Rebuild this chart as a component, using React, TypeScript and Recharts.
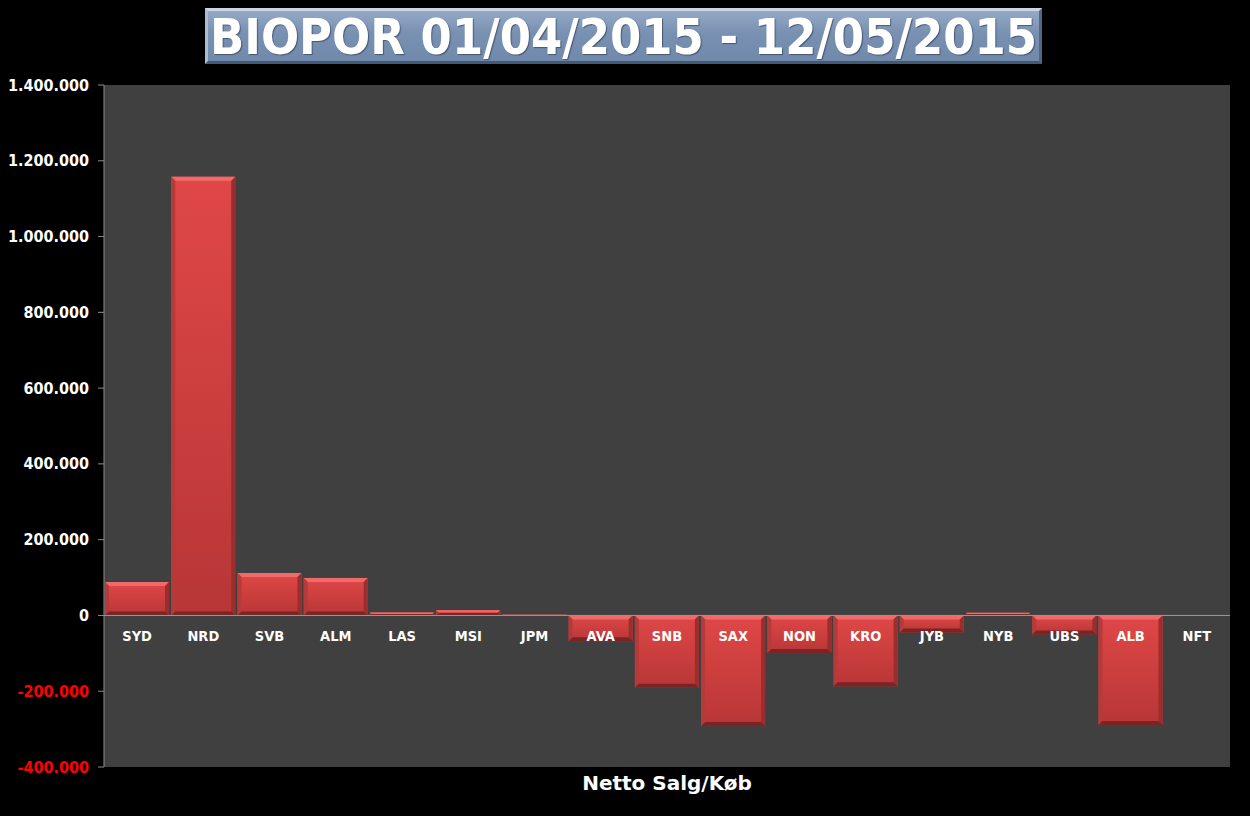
import React from 'react';
import { BarChart, Bar, XAxis, YAxis, CartesianGrid, ReferenceLine, Label } from 'recharts';

const titleText = 'BIOPOR 01/04/2015 - 12/05/2015';
const axisTitle = 'Netto Salg/Køb';
const categories = ['SYD', 'NRD', 'SVB', 'ALM', 'LAS', 'MSI', 'JPM', 'AVA', 'SNB', 'SAX', 'NON', 'KRO', 'JYB', 'NYB', 'UBS', 'ALB', 'NFT'];
const netValues = [88000, 1158000, 112000, 99000, 8000, 14000, 2000, -68000, -191000, -292000, -99000, -187000, -45000, 7000, -50000, -289000, 0];
const yTicks = [-400000, -200000, 0, 200000, 400000, 600000, 800000, 1000000, 1200000, 1400000];
const yMin = -400000;
const yMax = 1400000;

const data = categories.map((c, i) => ({ name: c, value: netValues[i] }));

const W = 1250;
const H = 816;
const M = { top: 85, right: 20, bottom: 0, left: 0 };
const Y_AXIS_W = 104;
const X_AXIS_H = 49;
const plotH = H - M.top - M.bottom - X_AXIS_H;
const zeroY = M.top + plotH * (yMax / (yMax - yMin));

const FONT = "'DejaVu Sans Condensed', 'DejaVu Sans', sans-serif";
const FONT_WIDE = "'DejaVu Sans', sans-serif";

const fmt = (v: number) => {
  const s = Math.abs(v).toString().replace(/\B(?=(\d{3})+(?!\d))/g, '.');
  return (v < 0 ? '-' : '') + s;
};

const YTick = (props: any) => {
  const { x, y, payload } = props;
  const v = payload.value as number;
  return (
    <text x={x} y={y} textAnchor="end" dominantBaseline="central" fill={v < 0 ? '#FF0000' : '#FFFFFF'}
      fontFamily={FONT} fontWeight="bold" fontSize={16}>
      {fmt(v)}
    </text>
  );
};

const XTick = (props: any) => {
  const { x, payload } = props;
  return (
    <text x={x} y={zeroY + 21} textAnchor="middle" dominantBaseline="central" fill="#FFFFFF"
      fontFamily={FONT} fontWeight="bold" fontSize={14.5}>
      {payload.value}
    </text>
  );
};

const BevelBar = (props: any) => {
  const { x, y, width, height } = props;
  if (!height || Math.abs(height) < 0.5) return null;
  const top = Math.min(y, y + height);
  const h = Math.abs(height);
  const w = width;
  const b = Math.min(4, h / 2, w / 2);
  return (
    <g>
      <rect x={x} y={top} width={w} height={h} fill="url(#barGrad)" />
      <polygon points={`${x},${top} ${x + w},${top} ${x + w - b},${top + b} ${x + b},${top + b}`} fill="#F06A6A" />
      <polygon points={`${x},${top} ${x + b},${top + b} ${x + b},${top + h - b} ${x},${top + h}`} fill="#B63A3A" />
      <polygon points={`${x + w},${top} ${x + w - b},${top + b} ${x + w - b},${top + h - b} ${x + w},${top + h}`} fill="#9A2E2E" />
      <polygon points={`${x},${top + h} ${x + w},${top + h} ${x + w - b},${top + h - b} ${x + b},${top + h - b}`} fill="#7A2424" />
    </g>
  );
};

export default function App() {
  return (
    <div style={{ position: 'absolute', left: 0, top: 0, width: W, height: H, background: '#000000', overflow: 'hidden' }}>
      <div
        style={{
          position: 'absolute',
          left: 205,
          top: 8,
          width: 837,
          height: 56,
          boxSizing: 'border-box',
          background: 'linear-gradient(#93A9C6, #7890B1 45%, #7189AB)',
          borderStyle: 'solid',
          borderWidth: 3,
          borderTopColor: '#C9D6E6',
          borderLeftColor: '#AABBD2',
          borderRightColor: '#506785',
          borderBottomColor: '#435975',
          color: '#FFFFFF',
          fontFamily: FONT,
          fontWeight: 'bold',
          fontSize: 50,
          lineHeight: '52px',
          textAlign: 'center',
          whiteSpace: 'nowrap',
          textShadow: '1px 1px 1px rgba(40,50,70,0.6)',
        }}
      >
        {titleText}
      </div>
      <div style={{ position: 'absolute', left: 0, top: 0 }}>
        <BarChart width={W} height={H} data={data} margin={M} barCategoryGap={1}>
          <defs>
            <linearGradient id="barGrad" x1="0" y1="0" x2="0" y2="1">
              <stop offset="0%" stopColor="#E04747" />
              <stop offset="100%" stopColor="#B83636" />
            </linearGradient>
          </defs>
          <CartesianGrid horizontal={false} vertical={false} fill="#404040" stroke="none" />
          <XAxis
            dataKey="name"
            height={X_AXIS_H}
            axisLine={false}
            tickLine={false}
            tick={<XTick />}
            interval={0}
          >
            <Label
              content={(p: any) => {
                const vb = p.viewBox;
                return (
                  <text x={vb.x + vb.width / 2} y={vb.y + 16} textAnchor="middle" dominantBaseline="central"
                    fill="#FFFFFF" fontFamily={FONT_WIDE} fontWeight="bold" fontSize={20}>
                    {axisTitle}
                  </text>
                );
              }}
            />
          </XAxis>
          <YAxis
            width={Y_AXIS_W}
            domain={[yMin, yMax]}
            ticks={yTicks}
            interval={0}
            axisLine={{ stroke: '#8C8C8C', strokeWidth: 1 }}
            tickLine={{ stroke: '#8C8C8C' }}
            tickSize={6}
            tickMargin={9}
            tick={<YTick />}
          />
          <ReferenceLine y={0} stroke="#9A9A9A" strokeWidth={1} />
          <Bar dataKey="value" shape={<BevelBar />} isAnimationActive={false} />
        </BarChart>
      </div>
    </div>
  );
}
